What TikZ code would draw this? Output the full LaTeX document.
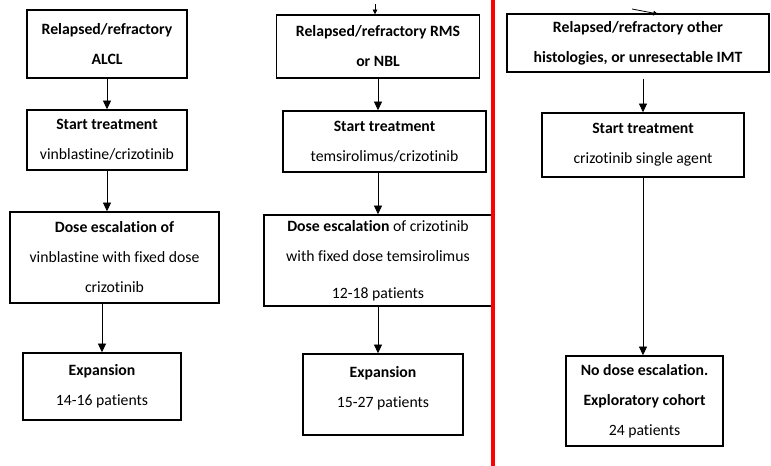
\documentclass[tikz,border=0pt]{standalone}
\usepackage{fontspec}
\setmainfont[Ligatures=NoCommon]{Carlito}
\usetikzlibrary{arrows.meta}
\tikzset{
  box/.style={draw,line width=1.1pt,align=center,inner sep=0pt,
    font=\fontsize{11.8}{22.5}\selectfont},
  flow/.style={-{Triangle[length=6.5pt,width=6pt]},line width=0.6pt},
  stub/.style={-{Triangle[length=3.5pt,width=3.5pt]},line width=0.6pt}
}
\begin{document}
\begin{tikzpicture}[x=0.75pt,y=-0.75pt]
  \useasboundingbox (0,0) rectangle (771,466);

  % ALCL arm
  \node[box,minimum width=120pt,minimum height=51pt] (a1) at (107,44){\textbf{Relapsed/refractory}\\\textbf{ALCL}};
  \node[box,minimum width=120pt,minimum height=45pt] (a2) at (107,140){\textbf{Start treatment}\\vinblastine/crizotinib};
  \node[box,minimum width=156.75pt,minimum height=68.25pt] (a3) at (114.5,257.5){\textbf{Dose escalation of}\\vinblastine with fixed dose\\crizotinib};
  \node[box,minimum width=118.5pt,minimum height=50.25pt] (a4) at (102,386.5){\textbf{Expansion}\\14-16 patients};

  % RMS / NBL arm
  \node[box,minimum width=152.25pt,minimum height=47.25pt] (b1) at (378,46.5){\textbf{Relapsed/refractory RMS}\\\textbf{or NBL}};
  \node[box,minimum width=152.25pt,minimum height=45.75pt] (b2) at (384.5,141.5){\textbf{Start treatment}\\temsirolimus/crizotinib};
  \node[box,minimum width=171pt,minimum height=68.25pt] (b3) at (378,260.5){\textbf{Dose escalation} of crizotinib\\with fixed dose temsirolimus\\[5pt]12-18 patients};
  \node[box,minimum width=120pt,minimum height=60.75pt,text depth=12pt] (b4) at (383,394.5){\textbf{Expansion}\\15-27 patients};

  % other histologies arm
  \node[box,minimum width=196.5pt,minimum height=43.5pt] (c1) at (638,43){\textbf{Relapsed/refractory other}\\\textbf{histologies, or unresectable IMT}};
  \node[box,minimum width=151.5pt,minimum height=48pt] (c2) at (643,145){\textbf{Start treatment}\\crizotinib single agent};
  \node[box,minimum width=117.75pt,minimum height=67.5pt] (c3) at (644.5,401){\textbf{No dose escalation.}\\\textbf{Exploratory cohort}\\24 patients};

  \draw[red,line width=2.4pt] (493,0) to (493,466);

  \coordinate (b0) at (375,4);
  \coordinate (c0) at (632,9);
  \coordinate (c0e) at (658,14);
  \draw[stub] (b0) to (b0 |- b1.north);
  \draw[stub] (c0) to (c0e);

  \draw[flow] (a1.south) to (a2.north);
  \draw[flow] (a2.south) to (a3.north -| a2.south);
  \draw[flow] (a3.south -| a4.north) to (a4.north);

  \draw[flow] (b1.south) to (b1.south |- b2.north);
  \draw[flow] (b2.south -| b3.north) to (b3.north);
  \draw[flow] (b3.south) to (b3.south |- b4.north);

  \draw[flow,shorten <=4.5pt] (c1.south -| c2.north) to (c2.north);
  \draw[flow] (c2.south) to (c2.south |- c3.north);
\end{tikzpicture}
\end{document}
